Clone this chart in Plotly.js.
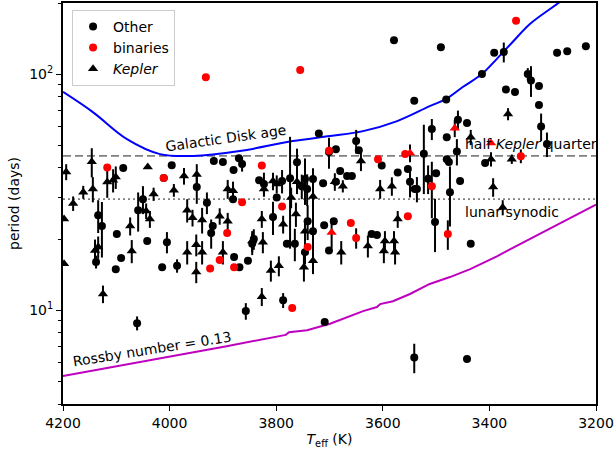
<!DOCTYPE html>
<html>
<head>
<meta charset="utf-8">
<script src="https://cdn.plot.ly/plotly-3.0.1.min.js"></script>
<style>html,body{margin:0;padding:0;background:#fff;}#chart{width:614px;height:454px;}</style>
</head>
<body>
<div id="chart"></div>
<script>
// ---- "Other" stars (black circles): Teff (K), period (days), error (days)
var otherT = [3720,3579,3491,3391,3373,3541,3481,3414,3369,3352,3328,3322,3307,3307,3303,3273,3254,3219,3688,3650,
  3645,3508,3459,3442,3480,3523,3461,3480,3476,3408,3292,3500,3515,3474,3455,3536,3502,3435,3541,3442,
  3870,3864,3832,3823,3799,3789,3774,3761,3752,3746,3742,3731,3712,3701,3688,3680,3667,3658,3602,3572,
  3553,3549,3540,3806,3741,3731,3710,3692,3845,3842,3780,3765,3746,3701,3621,3611,3853,3787,3857,3709,
  3879,3869,4134,4127,4138,4099,4101,4087,4091,4042,4061,4050,4005,4014,3986,3996,4011,3949,3930,3922,
  3919,3917,3900,3880,3881,4059];
var otherP = [56,139,130,123,124,77,78,100,86,84,100,94,89,74,60,123,125,131,48,52,
  47.6,58.5,64,62,54,46,47,43.6,42.4,42,50.5,38,36,31.6,35.2,32.6,23.6,19.1,6.3,6.2,
  44,41.6,35.5,34.2,30,35.2,36.2,42.3,33.5,35.9,32.6,35.9,34.5,46.7,35,38.8,37,37,41,38.3,
  39.6,35,32.6,24.8,23.8,21.6,22.9,23.8,19.1,20,19.1,19.1,17.6,17.9,21,20.8,16.2,11,9.9,8.9,
  16.8,15.2,25.2,22.7,16.0,21.0,14.9,40,16.6,19.6,8.8,29.5,19.4,15.2,15.4,41.1,36.3,33.2,28.5,21.2,
  22.7,42.8,42.4,39.2,29.5,26.5];
var otherE = [0,0,0,0,12,0,0,0,0,0,6,14,0,0,8,4,0,0,0,6,
  0,6,6,0,0,15,6,0,0,0,6,0,5,9,0,4,6,0,0.9,0,
  0,3,0,4,0,4,18,6,4,8,5,4,0,7,0,0,0,0,0,0,
  0,5,0,4,4,6,0,0,2,2,0,3,2,0,0,0,0,0.8,0.8,0,
  0,0,4,6,1,0,0,0,0,0,0.6,4,2,0,1,0,0,5,3,3,
  0,0,0,0,0,5];

// ---- binaries (red circles)
var binT = [3932,3755,3350,3701,4117,4011,3827,3609,3558,3341,3864,3789,3553,3508,3478,3924,3906,3892,3879,3660,3650,3741,3770];
var binP = [97,104,168,47.3,40.2,36.3,41,43.6,45.8,44.9,28.6,27.5,25,33.5,21,15,16.3,21.2,15.2,23.4,20.2,18.5,10.2];
var binE = [0,0,0,0,0,0,0,0,0,3,0,0,0,9,3,0,0,0,0,0,2,0,0];

// ---- Kepler binaries (red triangles)
var kbinT = [3465,3397,3549,3696];
var kbinP = [59,51,46.3,21.3];
var kbinE = [5,0,4,3];

// ---- Kepler (black triangles)
var kepT = [4194,4198,4198,4181,4162,4146,4144,4140,4134,4125,4117,4106,4101,4074,4071,4041,4030,4037,4044,3992,
  3973,3967,3950,3950,3939,3949,3906,3891,3900,3957,3939,3967,3881,3891,3823,3806,3799,3772,3761,3731,
  3690,3675,3641,3605,3583,3827,3787,3746,3763,3845,3825,3731,3748,3678,3628,3596,3598,3579,3577,3572,
  3810,3795,3827,3435,3397,3358,3393,3375,3365];
var kepP = [38.5,24.3,15.7,28.3,31.6,42.5,32.6,17.9,18.5,11.7,34.9,35.5,36.6,22.7,17.8,40.4,31.0,24.3,26.3,32.2,
  37,17.6,18.9,14.5,17.6,37.5,25.0,23.8,17.6,24.6,24.1,26.5,32,32.6,32.6,35.2,34.2,30,35,30.3,
  35,33.5,42.8,32.6,33.5,24.3,23.1,21.6,25.5,19.6,19.4,16.2,15.2,17.6,18.7,19.6,17.8,19.6,17.6,24.3,
  14.7,15.4,11.4,54,43.6,43.6,33.2,27.2,67.7];
var kepE = [3,0,0,2,2,6,4,2,2,1,5,4,4,2,2,0,2,2,2,2,
  3,2,2,1.5,2,4,2,2,2,2,3,3,3,3,2,3,3,3,4,3,
  3,2,4,3,3,2,2,2,3,2,2,2,2,2,2,2,2,2,2,2,
  1.5,1.5,1,4,3,2,3,2,4];

// ---- curves
var diskT = [4200,4144,4080,4018,3956,3868,3769,3699,3637,3573,3512,3481,3450,3414,3386,3356,3324,3268,3250];
var diskP = [84,69,53,45.8,45,47.2,52,54.6,57.3,63.2,73.1,78.4,88.1,100,116,137,163,202,218];
var rossT = [4200,4000,3893,3782,3776,3742,3699,3637,3611,3605,3581,3549,3512,3474,3436,3386,3324,3262,3206,3200];
var rossP = [5.25,6.32,7.03,7.85,8.05,8.22,8.75,9.9,10.3,10.6,10.9,11.7,12.9,13.8,14.9,16.9,20.0,23.6,27.6,28];
var halfKeplerQuarter = 45;
var lunarSynodic = 29.53;

var xRange = [4200, 3200];
var yTickVals = [10, 100];
var yTickText = ['10<sup>1</sup>', '10<sup>2</sup>'];
var yMinor = [4,5,6,7,8,9,20,30,40,50,60,70,80,90,200];

var eb = function(arr, col){ return {type:'data', array:arr, symmetric:true, visible:true, color:col||'black', thickness:2, width:0}; };

var traces = [
  {x: xRange, y: [halfKeplerQuarter, halfKeplerQuarter], mode:'lines', line:{color:'#808080', width:1.8, dash:'8px,4px'}, showlegend:false, hoverinfo:'skip'},
  {x: xRange, y: [lunarSynodic, lunarSynodic], mode:'lines', line:{color:'#808080', width:1.8, dash:'2px,3px'}, showlegend:false, hoverinfo:'skip'},
  {x: diskT, y: diskP, mode:'lines', line:{color:'#0000ff', width:2, shape:'spline', smoothing:1}, showlegend:false},
  {x: rossT, y: rossP, mode:'lines', line:{color:'#bf00bf', width:2}, showlegend:false},
  {x: kepT, y: kepP, mode:'markers', name:'<i>Kepler</i>', legendrank:3, marker:{symbol:'triangle-up', size:9, color:'black'}, error_y: eb(kepE)},
  {x: otherT, y: otherP, mode:'markers', name:'Other', legendrank:1, marker:{symbol:'circle', size:8, color:'black'}, error_y: eb(otherE)},
  {x: kbinT, y: kbinP, mode:'markers', showlegend:false, marker:{symbol:'triangle-up', size:9, color:'#ff0000'}, error_y: eb(kbinE)},
  {x: binT, y: binP, mode:'markers', name:'binaries', legendrank:2, marker:{symbol:'circle', size:8, color:'#ff0000'}, error_y: eb(binE)}
];

var font = {family:'DejaVu Sans, sans-serif', size:14, color:'black'};
var layout = {
  width:614, height:454,
  margin:{l:63, r:18, t:3, b:50},
  paper_bgcolor:'white', plot_bgcolor:'white',
  font: font,
  showlegend:true,
  legend:{x:0.017, y:0.983, xanchor:'left', yanchor:'top', bgcolor:'rgba(255,255,255,0.8)', bordercolor:'#cccccc', borderwidth:1, font:{family:'DejaVu Sans, sans-serif', size:14}, itemwidth:30, tracegroupgap:0},
  xaxis:{range:xRange, autorange:false, showgrid:false, zeroline:false, showline:true, mirror:true, linecolor:'black', linewidth:2,
    ticks:'outside', ticklen:5, tickwidth:1, tickcolor:'black', tickvals:[4200,4000,3800,3600,3400,3200], ticktext:['4200','4000','3800','3600','3400','3200'],
    tickfont:{size:14}, title:{text:'<i>T</i><sub>eff</sub> (K)', font:{size:14}, standoff:4}},
  yaxis:{type:'log', range:[Math.log10(4), Math.log10(200)], autorange:false, showgrid:false, zeroline:false, showline:true, mirror:true, linecolor:'black', linewidth:2,
    ticks:'outside', ticklen:5, tickwidth:1, tickcolor:'black', tickmode:'array', tickvals:yTickVals, ticktext:yTickText, tickfont:{size:14},
    minor:{tickmode:'array', tickvals:yMinor, ticks:'outside', ticklen:3, tickwidth:1, tickcolor:'black', showgrid:false},
    title:{text:'period (days)', font:{size:14}, standoff:6}},
  annotations:[
    {x:3894, y:Math.log10(53.6), xref:'x', yref:'y', text:'Galactic Disk age', showarrow:false, textangle:-8, font:{size:14}},
    {x:3450, y:Math.log10(50.5), xref:'x', yref:'y', xanchor:'left', text:'half <i>Kepler</i> quarter', showarrow:false, font:{size:14}},
    {x:3450, y:Math.log10(26), xref:'x', yref:'y', xanchor:'left', text:'lunar synodic', showarrow:false, font:{size:14}},
    {x:4033, y:Math.log10(6.84), xref:'x', yref:'y', text:'Rossby number = 0.13', showarrow:false, textangle:-9, font:{size:14}}
  ]
};
Plotly.newPlot('chart', traces, layout, {displayModeBar:false, staticPlot:true});
</script>
</body>
</html>
